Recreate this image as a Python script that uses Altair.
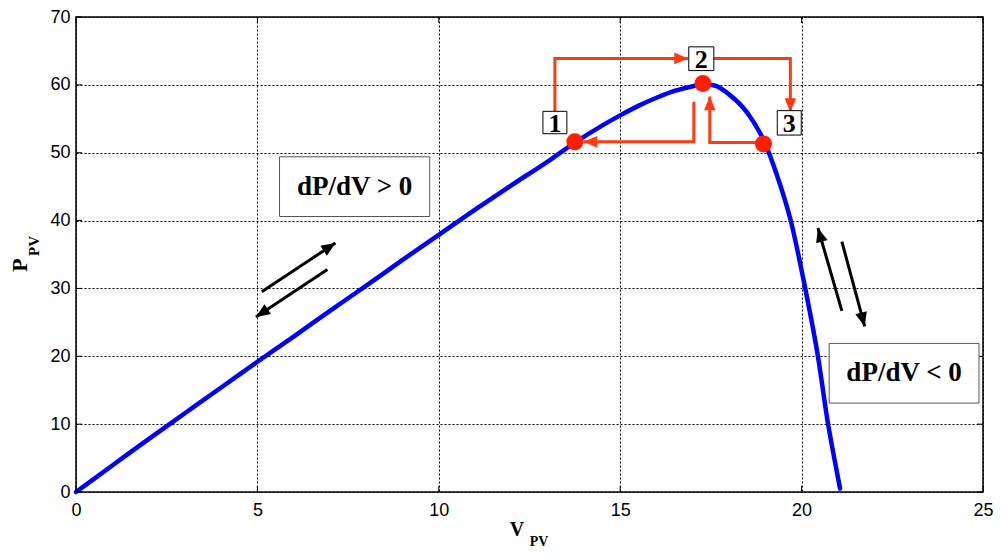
import math
import altair as alt
import pandas as pd

# ---- data ----
V_PV = [0, 1, 2, 3, 4, 5, 6, 7, 8, 9, 10, 11, 12, 13, 13.75, 14.5, 15, 15.5, 16, 16.5,
        17, 17.28, 17.6, 18, 18.5, 19, 19.3, 19.7, 20.1, 20.45, 20.73, 20.9, 21.06]
P_PV = [0, 3.9, 7.8, 11.6, 15.4, 19.2, 22.9, 26.7, 30.4, 34.2, 37.9, 41.6, 45.2, 48.7, 51.5, 54.0,
        55.5, 56.9, 58.1, 59.1, 59.8, 60.1, 59.9, 58.6, 55.9, 51.3, 47.0, 40.0, 30.0, 20.0, 10.0, 5.0, 0.5]

# operating points 1, 2, 3
PT_V = [13.75, 17.28, 18.95]
PT_P = [51.6, 60.2, 51.3]

# numbered boxes
BOX_LABEL = ["1", "2", "3"]
BOX_V1 = [12.87, 16.89, 19.33]
BOX_V2 = [13.53, 17.58, 19.99]
BOX_P1 = [52.8, 62.1, 52.6]
BOX_P2 = [56.1, 65.6, 56.2]

# red step paths (polyline vertices, arrow tip is the last vertex)
RED_ID = ["a", "a", "a", "b", "b", "b", "c", "c", "c", "d", "d", "d"]
RED_V = [13.2, 13.2, 16.87, 17.58, 19.69, 19.69, 17.03, 17.03, 13.99, 18.95, 17.47, 17.47]
RED_P = [56.1, 63.9, 63.9, 63.9, 63.9, 56.0, 57.5, 51.6, 51.6, 51.5, 51.5, 58.3]

# black direction arrows (start -> tip)
BLK_V0 = [5.12, 6.93, 21.11, 21.11]
BLK_P0 = [29.5, 32.8, 26.7, 36.9]
BLK_V1 = [7.15, 4.96, 20.45, 21.74]
BLK_P1 = [36.7, 25.8, 38.9, 24.4]

# slope text boxes
TXT = ["dP/dV > 0", "dP/dV < 0"]
TXT_V1 = [5.61, 20.76]
TXT_V2 = [9.75, 24.89]
TXT_P1 = [40.6, 13.1]
TXT_P2 = [49.4, 21.9]

XTICKS = [0, 5, 10, 15, 20, 25]
YTICKS = [0, 10, 20, 30, 40, 50, 60, 70]

W, H = 907, 475
SX, SY = W / 25.0, H / 70.0

xs = alt.Scale(domain=[0, 25], nice=False, zero=False)
ys = alt.Scale(domain=[0, 70], nice=False, zero=False)

curve_df = pd.DataFrame({"V": V_PV, "P": P_PV, "i": range(len(V_PV))})
pts_df = pd.DataFrame({"V": PT_V, "P": PT_P})
box_df = pd.DataFrame({"lab": BOX_LABEL, "v1": BOX_V1, "v2": BOX_V2, "p1": BOX_P1, "p2": BOX_P2})
box_df["vc"] = (box_df.v1 + box_df.v2) / 2
box_df["pc"] = (box_df.p1 + box_df.p2) / 2
red_df = pd.DataFrame({"id": RED_ID, "V": RED_V, "P": RED_P, "o": range(len(RED_V))})


def heads(ids, vs, ps):
    rows = []
    for k in sorted(set(ids), key=ids.index):
        idx = [j for j, q in enumerate(ids) if q == k]
        a, b = idx[-2], idx[-1]
        dx = (vs[b] - vs[a]) * SX
        dy = -(ps[b] - ps[a]) * SY
        ang = math.degrees(math.atan2(dx, -dy)) % 360
        rows.append({"V": vs[b], "P": ps[b], "ang": ang})
    return pd.DataFrame(rows)


red_heads = heads(RED_ID, RED_V, RED_P)

blk_ids, blk_v, blk_p = [], [], []
for k in range(len(BLK_V0)):
    blk_ids += [k, k]
    blk_v += [BLK_V0[k], BLK_V1[k]]
    blk_p += [BLK_P0[k], BLK_P1[k]]
blk_df = pd.DataFrame({"id": blk_ids, "V": blk_v, "P": blk_p, "o": range(len(blk_v))})
blk_heads = heads(blk_ids, blk_v, blk_p)

txt_df = pd.DataFrame({"t": TXT, "v1": TXT_V1, "v2": TXT_V2, "p1": TXT_P1, "p2": TXT_P2})
txt_df["vc"] = (txt_df.v1 + txt_df.v2) / 2
txt_df["pc"] = (txt_df.p1 + txt_df.p2) / 2

HEAD = "M0,0L-0.42,1L0.42,1Z"
RED = "#FF3A10"
DOT = "#FF1E00"

base_x = alt.X("V:Q", scale=xs,
               axis=alt.Axis(values=XTICKS, grid=True, title=None, labelPadding=9, format="d",
                             labelFlush=False))
base_y = alt.Y("P:Q", scale=ys,
               axis=alt.Axis(values=YTICKS, grid=True, title=None, labelPadding=6, format="d",
                             labelFlush=False))

curve = alt.Chart(curve_df).mark_line(color="#0000FF", strokeWidth=4.5, strokeCap="round",
                                      interpolate="monotone").encode(
    x=base_x, y=base_y, order="i:Q")

red_lines = alt.Chart(red_df).mark_line(color=RED, strokeWidth=3).encode(
    x=alt.X("V:Q", scale=xs), y=alt.Y("P:Q", scale=ys), detail="id:N", order="o:Q")
red_h = alt.Chart(red_heads).mark_point(shape=HEAD, filled=True, size=760, opacity=1,
                                        color=RED, strokeWidth=0).encode(
    x=alt.X("V:Q", scale=xs), y=alt.Y("P:Q", scale=ys), angle=alt.Angle("ang:Q", scale=None))

blk_lines = alt.Chart(blk_df).mark_line(color="black", strokeWidth=3).encode(
    x=alt.X("V:Q", scale=xs), y=alt.Y("P:Q", scale=ys), detail="id:N", order="o:Q")
blk_h = alt.Chart(blk_heads).mark_point(shape=HEAD, filled=True, size=800, opacity=1,
                                        color="black", strokeWidth=0).encode(
    x=alt.X("V:Q", scale=xs), y=alt.Y("P:Q", scale=ys), angle=alt.Angle("ang:Q", scale=None))

dots = alt.Chart(pts_df).mark_point(filled=True, size=290, opacity=1, color=DOT, strokeWidth=0).encode(
    x=alt.X("V:Q", scale=xs), y=alt.Y("P:Q", scale=ys))

boxes = alt.Chart(box_df).mark_rect(fill="white", stroke="black", strokeWidth=1).encode(
    x=alt.X("v1:Q", scale=xs), x2="v2:Q", y=alt.Y("p1:Q", scale=ys), y2="p2:Q")
box_txt = alt.Chart(box_df).mark_text(font="Liberation Serif", fontWeight="bold", fontSize=26,
                                      color="black", baseline="middle", dy=1).encode(
    x=alt.X("vc:Q", scale=xs), y=alt.Y("pc:Q", scale=ys), text="lab:N")

tboxes = alt.Chart(txt_df).mark_rect(fill="white", stroke="#555555", strokeWidth=1).encode(
    x=alt.X("v1:Q", scale=xs), x2="v2:Q", y=alt.Y("p1:Q", scale=ys), y2="p2:Q")
ttext = alt.Chart(txt_df).mark_text(font="Liberation Serif", fontWeight="bold", fontSize=27,
                                    color="black", baseline="middle").encode(
    x=alt.X("vc:Q", scale=xs), y=alt.Y("pc:Q", scale=ys), text="t:N")

# inward ticks on all four sides
xt_df = pd.DataFrame({"V": XTICKS})
yt_df = pd.DataFrame({"P": YTICKS})
xt_bot = alt.Chart(xt_df).mark_rule(color="black", strokeWidth=1).encode(
    x=alt.X("V:Q", scale=xs), y=alt.value(H), y2=alt.value(H - 6))
xt_top = alt.Chart(xt_df).mark_rule(color="black", strokeWidth=1).encode(
    x=alt.X("V:Q", scale=xs), y=alt.value(0), y2=alt.value(6))
yt_l = alt.Chart(yt_df).mark_rule(color="black", strokeWidth=1).encode(
    y=alt.Y("P:Q", scale=ys), x=alt.value(0), x2=alt.value(6))
yt_r = alt.Chart(yt_df).mark_rule(color="black", strokeWidth=1).encode(
    y=alt.Y("P:Q", scale=ys), x=alt.value(W), x2=alt.value(W - 6))


# axis titles with subscripts
def label(txt, x, y, size, angle=0):
    return alt.Chart(pd.DataFrame({"t": [txt]})).mark_text(
        font="Liberation Serif", fontWeight="bold", fontSize=size, color="black",
        align="center", baseline="middle", angle=angle).encode(
        x=alt.value(x), y=alt.value(y), text="t:N")


ylab = label("P", -56, 248, 22, 270)
ylab_sub = label("PV", -42, 229, 15, 270)
xlab = label("V", 441, 513, 20)
xlab_sub = label("PV", 463, 525, 14)

chart = alt.layer(
    curve, xt_bot, xt_top, yt_l, yt_r,
    red_lines, red_h, blk_lines, blk_h, dots,
    boxes, box_txt, tboxes, ttext,
    ylab, ylab_sub, xlab, xlab_sub,
).properties(
    width=W, height=H,
    autosize=alt.AutoSizeParams(type="none"),
    padding={"left": 68, "top": 9, "right": 10, "bottom": 56},
    background="white",
).configure_view(
    stroke="black", strokeWidth=1.5
).configure_axis(
    labelFont="Liberation Sans", labelFontSize=18, labelColor="black",
    domain=False, ticks=False,
    gridColor="black", gridOpacity=1, gridDash=[2, 2], gridWidth=1,
)

chart.save("out.html", embed_options={"renderer": "svg", "actions": False})
